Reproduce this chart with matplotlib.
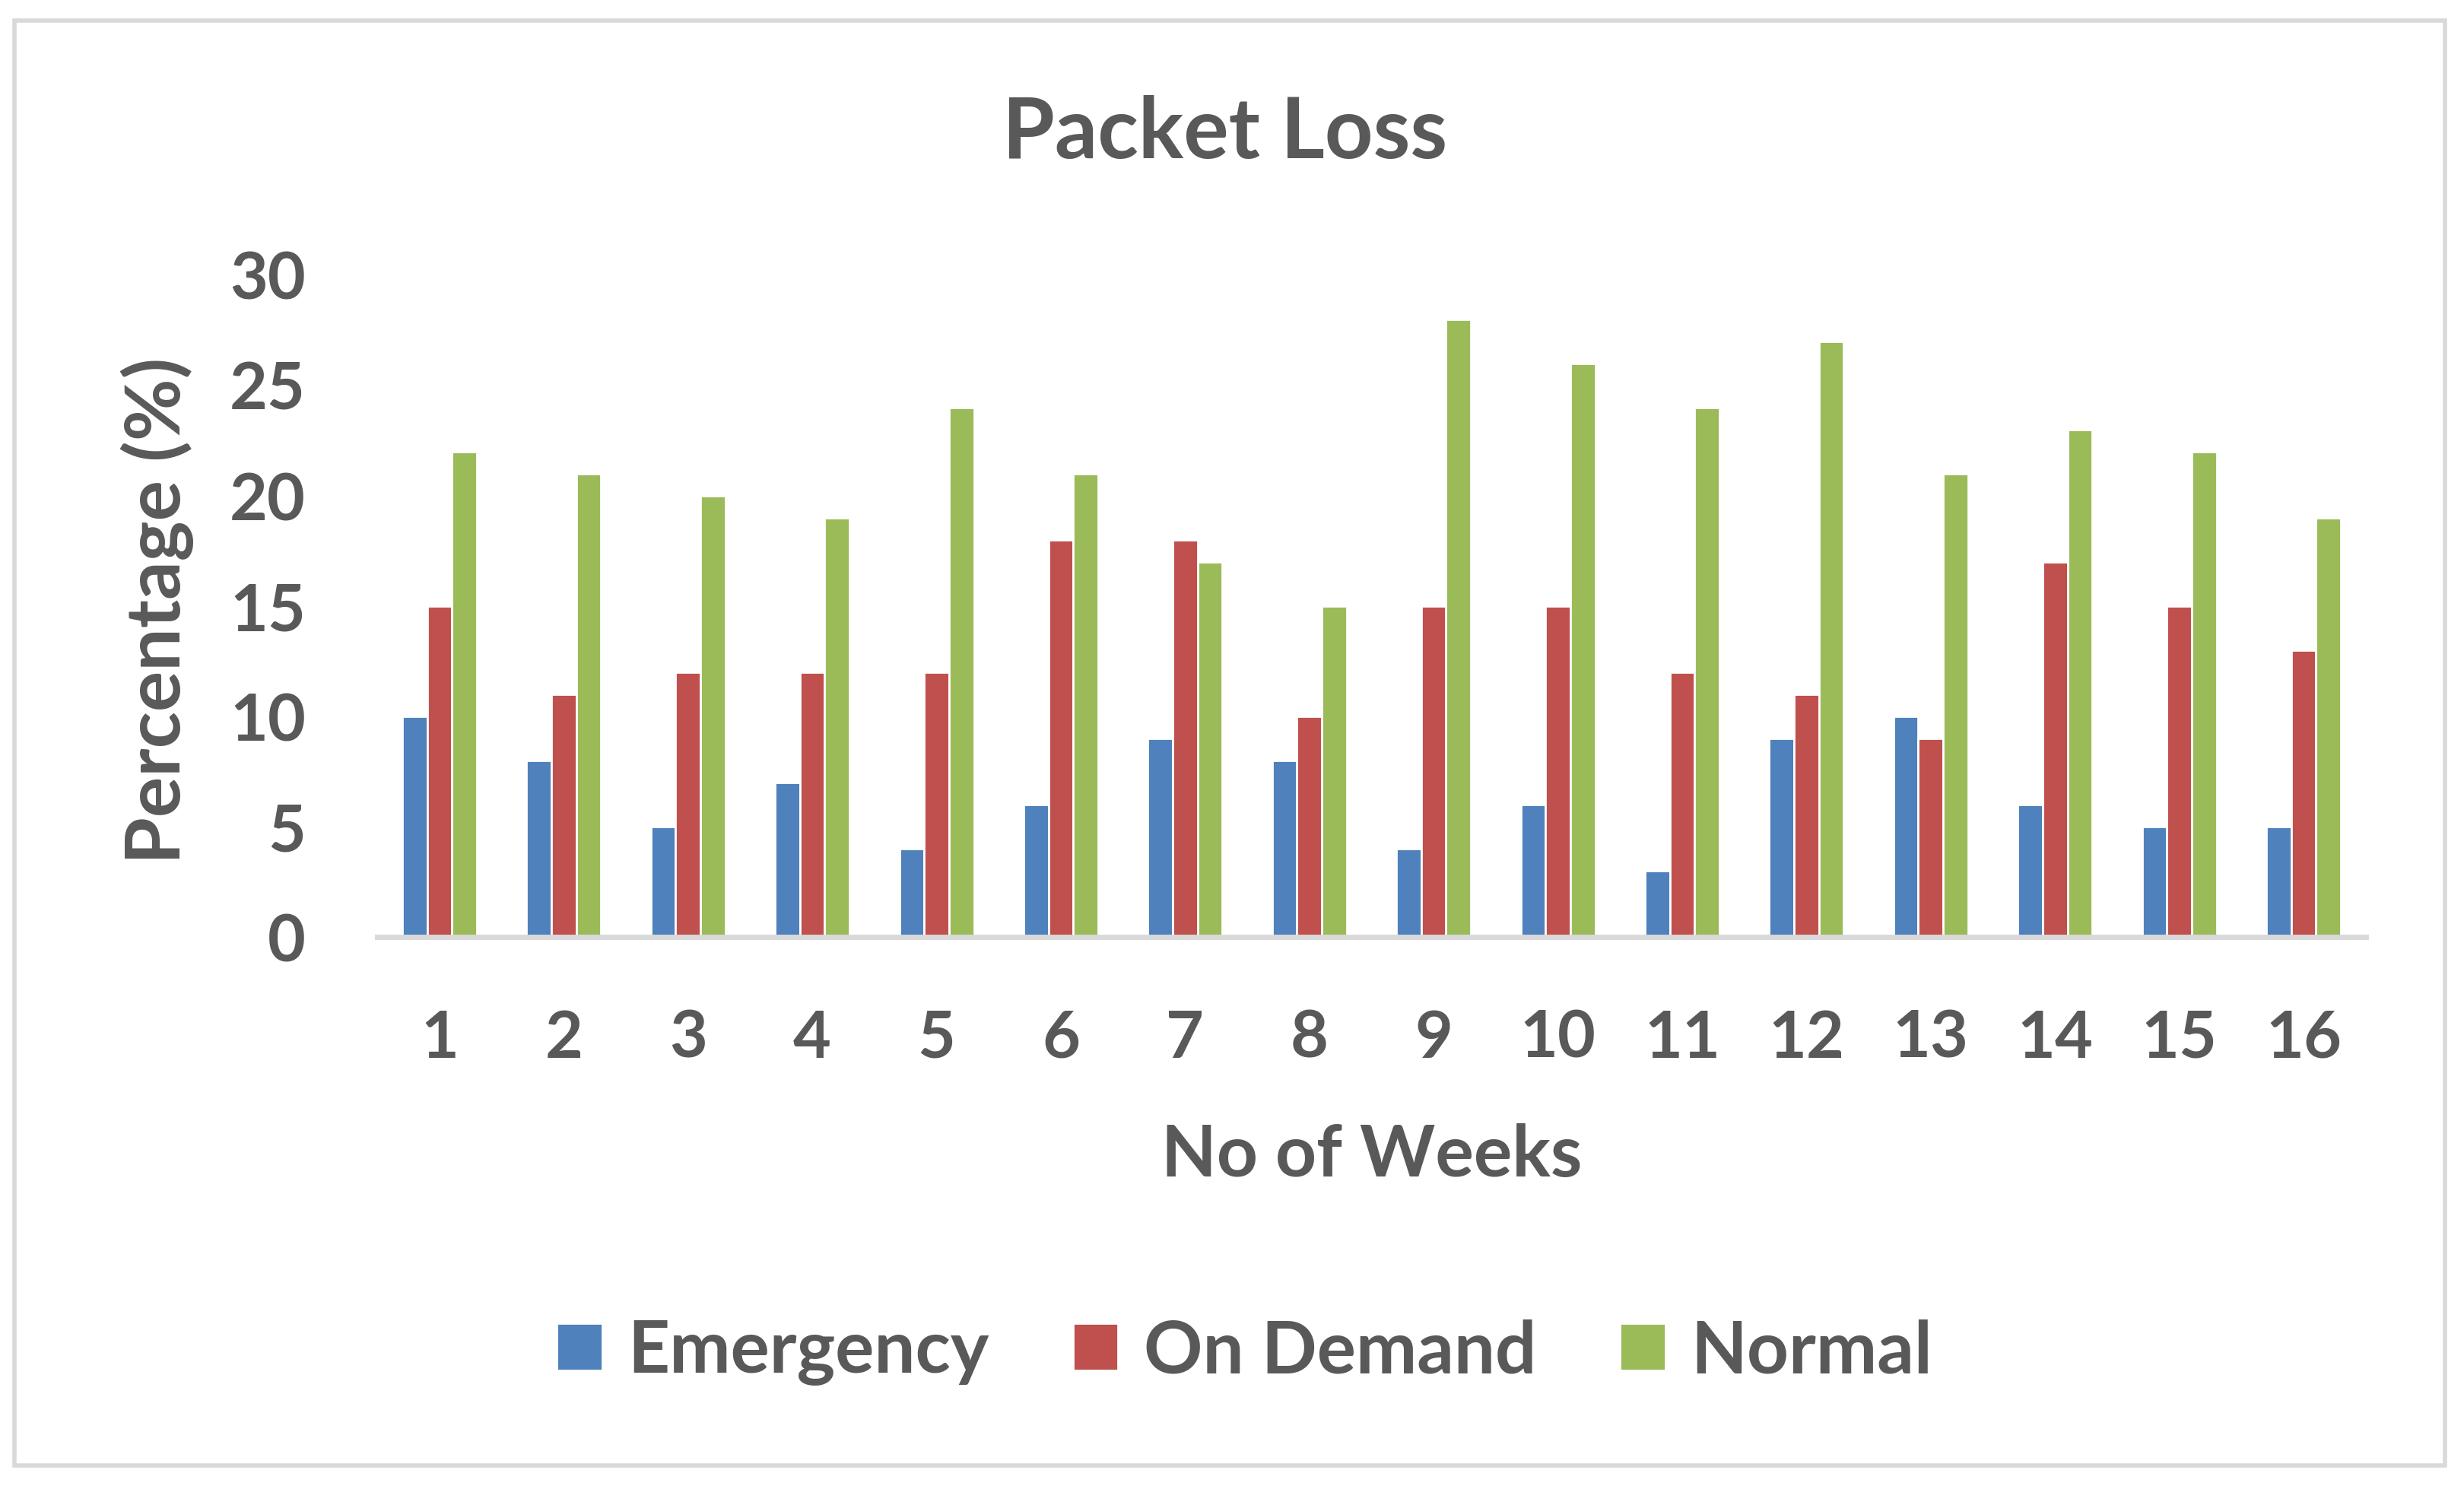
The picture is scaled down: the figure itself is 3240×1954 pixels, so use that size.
import numpy as np
import matplotlib
matplotlib.use("Agg")
import matplotlib.pyplot as plt
from matplotlib.patches import Rectangle

weeks = [str(i) for i in range(1, 17)]
emergency = [10, 8, 5, 7, 4, 6, 9, 8, 4, 6, 3, 9, 10, 6, 5, 5]
on_demand = [15, 11, 12, 12, 12, 18, 18, 10, 15, 15, 12, 11, 9, 17, 15, 13]
normal = [22, 21, 20, 19, 24, 21, 17, 15, 28, 26, 24, 27, 21, 23, 22, 19]

series = [
    ("Emergency", emergency, "#4F81BD"),
    ("On Demand", on_demand, "#C0504D"),
    ("Normal", normal, "#9BBB59"),
]

plt.rcParams["font.family"] = ["Lato", "DejaVu Sans"]
plt.rcParams["font.weight"] = "bold"
text_color = "#595959"

fig = plt.figure(figsize=(16.205, 9.77), dpi=200)
ax = fig.add_axes([0.1531, 0.3693, 0.8067, 0.4455])

x = np.arange(len(weeks))
width = 0.2
for i, (name, vals, color) in enumerate(series):
    ax.bar(x + (i - 1) * width, vals, width, color=color, edgecolor="white",
           linewidth=1.0, label=name, zorder=2)

ax.set_xlim(-0.5, len(weeks) - 0.5)
ax.set_ylim(0, 30)
ax.set_yticks(range(0, 31, 5))
ax.set_xticks(x)
ax.set_xticklabels(weeks)

for side in ["top", "right", "left"]:
    ax.spines[side].set_visible(False)
ax.spines["bottom"].set_color("#d9d9d9")
ax.spines["bottom"].set_linewidth(2.5)
ax.spines["bottom"].set_zorder(3)

ax.tick_params(axis="both", length=0, labelsize=31, labelcolor=text_color)
ax.tick_params(axis="y", pad=34)
ax.tick_params(axis="x", pad=34)
for lab in ax.get_xticklabels() + ax.get_yticklabels():
    lab.set_fontweight("bold")

fig.text(0.497, 0.910, "Packet Loss", ha="center", va="center",
         fontsize=40, fontweight="bold", color=text_color)
fig.text(0.5565, 0.222, "No of Weeks", ha="center", va="center",
         fontsize=34, fontweight="bold", color=text_color)
fig.text(0.0638, 0.589, "Percentage (%)", ha="center", va="center",
         rotation=90, fontsize=36, fontweight="bold", color=text_color)

leg = fig.legend(loc="center", bbox_to_anchor=(0.505, 0.09), ncol=3,
                 frameon=False, fontsize=34.5, handlelength=0.62,
                 handleheight=0.62, handletextpad=0.35, columnspacing=1.15)
for t in leg.get_texts():
    t.set_color(text_color)
    t.set_fontweight("bold")

fig.patches.append(Rectangle((0.006, 0.014), 0.986, 0.972,
                             transform=fig.transFigure, fill=False,
                             edgecolor="#d9d9d9", linewidth=2.0))

fig.savefig("out.png", dpi=200)
